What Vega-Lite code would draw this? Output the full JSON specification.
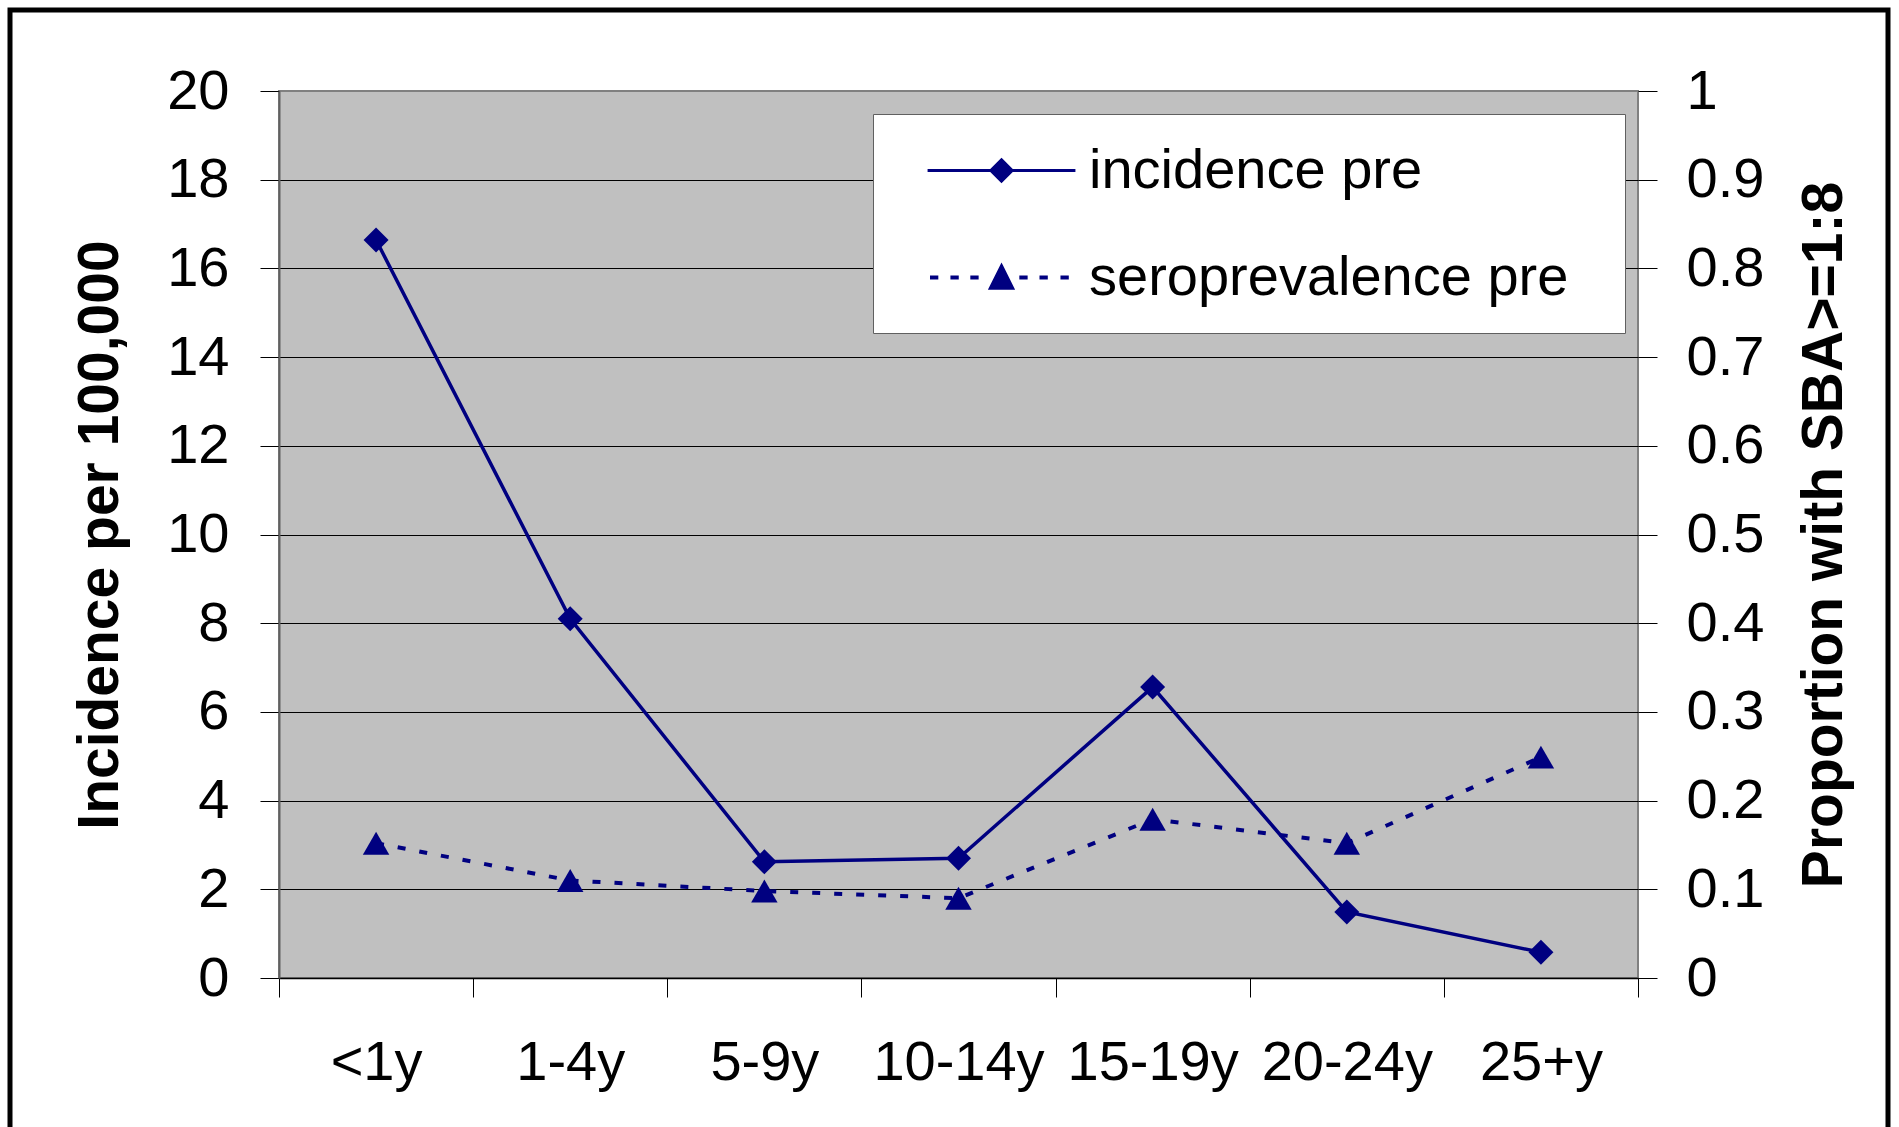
{
  "$schema": "https://vega.github.io/schema/vega-lite/v6.json",
  "width": 1359,
  "height": 887,
  "autosize": {"type": "none"},
  "padding": {"left": 279, "top": 91, "right": 261, "bottom": 149},
  "background": "white",
  "config": {
    "view": {"fill": "#C0C0C0", "stroke": "#808080", "strokeWidth": 2},
    "font": "Liberation Sans",
    "axis": {
      "labelFont": "Liberation Sans",
      "labelFontSize": 56,
      "labelColor": "black",
      "titleFont": "Liberation Sans",
      "titleFontSize": 57,
      "titleFontWeight": "bold",
      "titleColor": "black",
      "tickColor": "black",
      "tickSize": 19,
      "tickWidth": 1,
      "labelOverlap": false,
      "labelFlush": false
    },
    "legend": {"labelFont": "Liberation Sans"}
  },
  "data": {
    "values": [
      {"age": "<1y", "incidence": 16.64, "seroprevalence": 0.152},
      {"age": "1-4y", "incidence": 8.1, "seroprevalence": 0.11},
      {"age": "5-9y", "incidence": 2.62, "seroprevalence": 0.098},
      {"age": "10-14y", "incidence": 2.7, "seroprevalence": 0.09},
      {"age": "15-19y", "incidence": 6.56, "seroprevalence": 0.179},
      {"age": "20-24y", "incidence": 1.49, "seroprevalence": 0.152},
      {"age": "25+y", "incidence": 0.58, "seroprevalence": 0.249}
    ]
  },
  "layer": [
    {
      "layer": [
        {
          "mark": {"type": "line", "strokeWidth": 3.5},
          "encoding": {
            "x": {
              "field": "age", "type": "ordinal", "bandPosition": 0.5,
              "scale": {"type": "band", "paddingInner": 0, "paddingOuter": 0, "domain": ["<1y", "1-4y", "5-9y", "10-14y", "15-19y", "20-24y", "25+y"]},
              "axis": {"title": null, "labelAngle": 0, "tickBand": "extent", "grid": false, "domainColor": "black", "domainWidth": 1.5, "labelPadding": 38}
            },
            "y": {
              "field": "incidence", "type": "quantitative",
              "scale": {"domain": [0, 20], "nice": false},
              "axis": {
                "orient": "left",
                "values": [0, 2, 4, 6, 8, 10, 12, 14, 16, 18, 20],
                "title": "Incidence per 100,000",
                "grid": true,
                "gridColor": {"condition": {"test": "datum.value === 20", "value": "#808080"}, "value": "black"},
                "gridWidth": 1,
                "domainColor": "#606060",
                "domainWidth": 2,
                "labelPadding": 31,
                "titlePadding": 37
              }
            },
            "stroke": {
              "datum": 1, "type": "quantitative",
              "scale": {"domain": [0, 1], "range": ["#000080", "#000080"]},
              "legend": {
                "orient": "none", "legendX": -269, "legendY": -81,
                "direction": "horizontal", "gradientLength": 1878, "gradientThickness": 1200,
                "padding": 0, "title": null, "strokeColor": "black",
                "values": [0.5], "labelExpr": "''",
                "labelOpacity": 0, "gradientOpacity": 0, "gradientStrokeWidth": 0, "labelFontSize": 1,
                "encode": {
                  "legend": {"update": {"strokeWidth": {"value": 5}, "stroke": {"value": "black"}}}
                }
              }
            }
          }
        },
        {
          "mark": {"type": "point", "shape": "diamond", "filled": true, "color": "#000080", "size": 625, "opacity": 1},
          "encoding": {
            "x": {"field": "age", "type": "ordinal", "bandPosition": 0.5},
            "y": {"field": "incidence", "type": "quantitative"}
          }
        },
        {
          "mark": {"type": "point", "fill": "#000080", "stroke": "#000080", "strokeWidth": 3, "size": 3136, "opacity": 0},
          "encoding": {
            "x": {"field": "age", "type": "ordinal", "bandPosition": 0.5},
            "y": {"field": "incidence", "type": "quantitative"},
            "shape": {
              "datum": "incidence pre", "type": "nominal",
              "scale": {
                "domain": ["incidence pre", "seroprevalence pre"],
                "range": [
                  "M-3.5,0M-2.64,0H2.64M21.08,0M0,-0.38L0.38,0L0,0.38L-0.38,0Z",
                  "M-3.5,0M-2.5,-0.02h0.19v0.04h-0.19ZM-1.77,-0.02h0.19v0.04h-0.19ZM-1.06,-0.02h0.19v0.04h-0.19ZM0.69,-0.02h0.19v0.04h-0.19ZM1.41,-0.02h0.19v0.04h-0.19ZM2.16,-0.02h0.19v0.04h-0.19ZM21.08,0M0,-0.42L0.4,0.38L-0.4,0.38Z"
                ]
              },
              "legend": {
                "orient": "none", "legendX": 594, "legendY": 23, "title": null,
                "padding": 27, "fillColor": "white", "strokeColor": "#606060",
                "symbolSize": 3136, "symbolStrokeWidth": 3, "symbolOpacity": 1,
                "symbolOffset": 72, "labelOffset": 58,
                "labelFontSize": 56, "labelFont": "Liberation Sans", "labelColor": "black", "labelLimit": 1000,
                "rowPadding": 49,
                "encode": {
                  "legend": {"update": {"strokeWidth": {"value": 2}}}
                }
              }
            }
          }
        }
      ]
    },
    {
      "layer": [
        {
          "mark": {"type": "line", "color": "#000080", "strokeWidth": 4, "strokeDash": [8, 14]},
          "encoding": {
            "x": {"field": "age", "type": "ordinal", "bandPosition": 0.5},
            "y": {
              "field": "seroprevalence", "type": "quantitative",
              "scale": {"domain": [0, 1], "nice": false},
              "axis": {
                "orient": "right",
                "values": [0, 0.1, 0.2, 0.3, 0.4, 0.5, 0.6, 0.7, 0.8, 0.9, 1],
                "format": ".1~f",
                "title": "Proportion with SBA>=1:8",
                "titleAngle": 270,
                "titleBaseline": "top",
                "grid": false,
                "domain": false,
                "labelPadding": 29,
                "titlePadding": 33
              }
            }
          }
        },
        {
          "mark": {"type": "point", "shape": "triangle-up", "filled": true, "color": "#000080", "size": 700, "opacity": 1},
          "encoding": {
            "x": {"field": "age", "type": "ordinal", "bandPosition": 0.5},
            "y": {"field": "seroprevalence", "type": "quantitative"}
          }
        },
        {
          "mark": {"type": "point", "fill": "#000080", "stroke": "#000080", "strokeWidth": 3, "size": 3136, "opacity": 0},
          "encoding": {
            "x": {"field": "age", "type": "ordinal", "bandPosition": 0.5},
            "y": {"field": "seroprevalence", "type": "quantitative"},
            "shape": {"datum": "seroprevalence pre", "type": "nominal"}
          }
        }
      ]
    }
  ],
  "resolve": {"scale": {"y": "independent"}}
}
